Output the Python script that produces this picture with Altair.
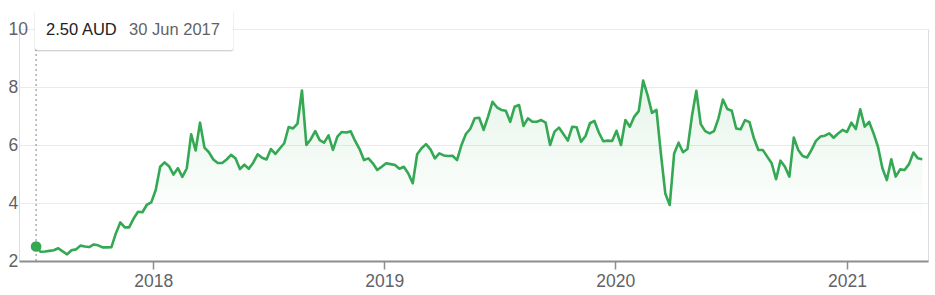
import altair as alt
import pandas as pd

# Weekly closing prices (AUD), starting 30 Jun 2017
start_date = "2017-06-30"
prices = [
    2.50, 2.32, 2.33, 2.35, 2.37, 2.44, 2.33, 2.23, 2.37, 2.40,
    2.53, 2.50, 2.48, 2.57, 2.54, 2.47, 2.47, 2.48, 2.95, 3.33,
    3.16, 3.16, 3.46, 3.70, 3.68, 3.94, 4.02, 4.45, 5.25, 5.40,
    5.27, 4.98, 5.20, 4.90, 5.19, 6.37, 5.81, 6.77, 5.91, 5.75,
    5.50, 5.38, 5.38, 5.50, 5.66, 5.54, 5.17, 5.32, 5.18, 5.39,
    5.68, 5.56, 5.50, 5.86, 5.69, 5.88, 6.06, 6.62, 6.57, 6.74,
    7.88, 6.00, 6.20, 6.48, 6.17, 6.08, 6.33, 5.83, 6.29, 6.45,
    6.43, 6.47, 6.14, 5.86, 5.48, 5.54, 5.37, 5.14, 5.25, 5.37,
    5.34, 5.31, 5.18, 5.25, 5.02, 4.68, 5.68, 5.89, 6.03, 5.85,
    5.54, 5.71, 5.64, 5.62, 5.63, 5.48, 6.00, 6.38, 6.56, 6.92,
    6.94, 6.52, 6.98, 7.49, 7.30, 7.21, 7.18, 6.80, 7.32, 7.38,
    6.66, 6.92, 6.80, 6.80, 6.86, 6.77, 6.00, 6.46, 6.60, 6.38,
    6.15, 6.63, 6.61, 6.11, 6.31, 6.75, 6.83, 6.43, 6.13, 6.15,
    6.14, 6.49, 6.00, 6.86, 6.63, 6.98, 7.17, 8.22, 7.72, 7.11,
    7.21, 5.71, 4.33, 3.93, 5.71, 6.08, 5.75, 5.86, 6.98, 7.87,
    6.72, 6.48, 6.40, 6.48, 6.92, 7.57, 7.24, 7.18, 6.57, 6.54,
    6.86, 6.79, 6.23, 5.83, 5.83, 5.60, 5.37, 4.82, 5.46, 5.25,
    4.91, 6.26, 5.83, 5.62, 5.57, 5.83, 6.14, 6.29, 6.32, 6.40,
    6.25, 6.40, 6.52, 6.45, 6.77, 6.55, 7.23, 6.63, 6.80, 6.40,
    5.94, 5.20, 4.79, 5.51, 4.91, 5.16, 5.14, 5.34, 5.74, 5.54,
    5.51,
]
y_ticks = [2, 4, 6, 8, 10]
year_ticks = [2018, 2019, 2020, 2021]
currency = "AUD"

dates = pd.date_range(start_date, periods=len(prices), freq="7D")
df = pd.DataFrame({
    "date": dates.strftime("%Y-%m-%dT00:00:00"),
    "price": prices,
})
first = df.iloc[[0]].copy()
first["price_label"] = f"{prices[0]:.2f} {currency}"
first["date_label"] = f"{dates[0].day} {dates[0].strftime('%b %Y')}"

FONT = "Liberation Sans"
GREEN = "#34a853"

x_scale = alt.Scale(domain=[alt.DateTime(year=2017, month=6, date=3),
                            alt.DateTime(year=2021, month=5, date=9)])
y_scale = alt.Scale(domain=[2, 10], zero=False, nice=False)

x_enc = alt.X("date:T", scale=x_scale, title=None,
              axis=alt.Axis(values=[alt.DateTime(year=y, month=1, date=1) for y in year_ticks],
                            format="%Y", grid=False, domain=True,
                            domainColor="#8a8d91", domainWidth=2,
                            ticks=True, tickSize=8, tickColor="#8a8d91", tickWidth=1.5,
                            labelPadding=3, labelFontSize=17.5, labelColor="#5f6368",
                            labelFont=FONT, zindex=1))
y_enc = alt.Y("price:Q", scale=y_scale, title=None,
              axis=alt.Axis(values=y_ticks, grid=True, gridColor="#ebebeb", gridWidth=1,
                            domain=False, ticks=False, tickSize=0,
                            labelAlign="left", labelBaseline="middle", labelPadding=11,
                            labelFontSize=17.5, labelColor="#5f6368", labelFont=FONT))

base = alt.Chart(df)

area = base.mark_area(
    fill=alt.Gradient(
        gradient="linear",
        stops=[alt.GradientStop(color="rgba(52,168,83,0.12)", offset=0),
               alt.GradientStop(color="rgba(52,168,83,0.0)", offset=0.8)],
        x1=1, x2=1, y1=0, y2=1),
    interpolate="linear",
).encode(x=x_enc, y=y_enc, y2=alt.datum(2))

line = base.mark_line(color=GREEN, strokeWidth=2.6, strokeJoin="round").encode(
    x="date:T", y="price:Q")

fchart = alt.Chart(first)

rule = fchart.mark_rule(color="#80868b", strokeWidth=1, strokeDash=[2, 3]).encode(
    x="date:T", y=alt.value(0), y2=alt.value(232))

dot = fchart.mark_point(filled=True, color=GREEN, size=115, opacity=1).encode(
    x="date:T", y="price:Q")

shadow2 = fchart.mark_rect(fill="rgba(0,0,0,0.06)", cornerRadius=3).encode(
    x=alt.value(15), x2=alt.value(215), y=alt.value(-18), y2=alt.value(23))
shadow1 = fchart.mark_rect(fill="rgba(0,0,0,0.12)", cornerRadius=2).encode(
    x=alt.value(16), x2=alt.value(214), y=alt.value(-18.5), y2=alt.value(22))
box = fchart.mark_rect(fill="white", cornerRadius=2).encode(
    x=alt.value(16), x2=alt.value(214), y=alt.value(-19), y2=alt.value(21))

t1 = fchart.mark_text(align="left", baseline="middle", font=FONT, fontSize=16.5,
                      color="#202124", dx=10).encode(
    x="date:T", y=alt.value(1), text="price_label:N")
t2 = fchart.mark_text(align="left", baseline="middle", font=FONT, fontSize=16.5,
                      color="#5f6368", dx=93).encode(
    x="date:T", y=alt.value(1), text="date_label:N")

chart = alt.layer(area, rule, line, dot, shadow2, shadow1, box, t1, t2).properties(
    width=909, height=232,
    autosize=alt.AutoSizeParams(type="none"),
    padding={"left": 19, "top": 29, "right": 7, "bottom": 34},
).configure_view(stroke=None).configure(background="white")

chart.save("out.html", embed_options={"renderer": "svg", "actions": False})
